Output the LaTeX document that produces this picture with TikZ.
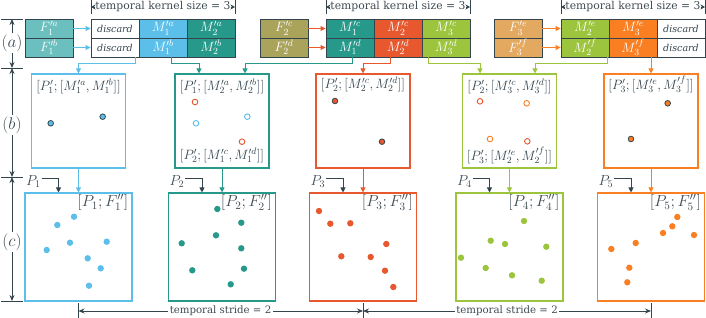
\documentclass[tikz,border=0pt]{standalone}
\usepackage[no-math]{fontspec}
\DeclareFontShape{OML}{cmm}{m}{it}{<-6>cmmi5<6-7>cmmi6<7-8>cmmi7<8-9>cmmi8<9-10>cmmi9<10-12>cmmi10<12->cmmi12}{}
\DeclareFontShape{OT1}{cmr}{m}{n}{<-6>cmr5<6-7>cmr6<7-8>cmr7<8-9>cmr8<9-10>cmr9<10-12>cmr10<12-17>cmr12<17->cmr17}{}
\DeclareFontShape{OMS}{cmsy}{m}{n}{<-6>cmsy5<6-7>cmsy6<7-8>cmsy7<8-9>cmsy8<9-10>cmsy9<10->cmsy10}{}
\DeclareFontShape{OMX}{cmex}{m}{n}{<->cmex10}{}
\newfontfamily\djv{DejaVu Serif}
\usetikzlibrary{arrows.meta}
\definecolor{cblue}{HTML}{5BBFEA}
\definecolor{cteal}{HTML}{26998A}
\definecolor{cred}{HTML}{E8582F}
\definecolor{cgreen}{HTML}{9CC43D}
\definecolor{corange}{HTML}{FA7F22}
\definecolor{fab}{HTML}{6BBFBE}
\definecolor{fcd}{HTML}{A9A35C}
\definecolor{fef}{HTML}{E3A960}
\definecolor{cdark}{HTML}{33444D}
\definecolor{ctext}{HTML}{3E4A52}
\tikzset{
 cell/.style={draw=cdark, line width=0.9pt, minimum width=48pt, minimum height=19pt, inner sep=0pt, text=white, font=\fontsize{13.5}{14}\selectfont},
 disc/.style={cell, fill=white, text=cdark, font=\djv\itshape\fontsize{9.5}{11}\selectfont},
 conn/.style={line width=0.9pt, -{Triangle[length=5pt,width=5pt]}},
 pbox/.style={draw, line width=1.1pt, minimum width=94pt, minimum height=94pt, inner sep=0pt},
 qbox/.style={draw, line width=1.1pt, minimum width=107pt, minimum height=108pt, inner sep=0pt},
 dimarr/.style={draw=cdark, line width=0.8pt, -{Stealth[length=6pt,width=5pt]}},
 kerarr/.style={draw=cdark, line width=0.8pt, -{Stealth[length=4.5pt,width=5pt]}},
 dimline/.style={draw=cdark, line width=0.8pt},
 kertxt/.style={text=ctext, font=\djv\fontsize{10.8}{12}\selectfont, inner sep=0pt},
 dimtxt/.style={text=ctext, font=\djv\fontsize{10.2}{12}\selectfont, inner sep=1.5pt},
 rowlab/.style={text=ctext, font=\fontsize{17}{19}\selectfont, inner sep=1pt},
 mlab/.style={text=cdark, font=\fontsize{13.5}{15}\selectfont, inner sep=0pt},
 qlab/.style={text=ctext, font=\fontsize{16}{18}\selectfont, inner sep=1pt, anchor=north east},
 plab/.style={text=ctext, font=\fontsize{14.5}{16}\selectfont, inner sep=0pt},
 parr/.style={draw=cdark, line width=0.9pt, -{Triangle[length=5pt,width=5pt]}},
 bdot/.style={draw=cdark, line width=0.8pt},
 odot/.style={line width=0.9pt, fill=white},
}
\begin{document}
\begin{tikzpicture}[x=1pt,y=-1pt]
\useasboundingbox (0,0) rectangle (706,318);

% ---------- top row, group 1
\node[cell, fill=fab] (f1a) at (49,28.5) {$F'^a_1$};
\node[cell, fill=fab] (f1b) at (49,47.5) {$F'^b_1$};
\node[disc] (g1da) at (115,28.5) {discard};
\node[disc] (g1db) at (115,47.5) {discard};
\node[cell, fill=cblue] (g1m1a) at (163,28.5) {$M'^a_1$};
\node[cell, fill=cblue] (g1m1b) at (163,47.5) {$M'^b_1$};
\node[cell, fill=cteal] (g1m2a) at (211,28.5) {$M'^a_2$};
\node[cell, fill=cteal] (g1m2b) at (211,47.5) {$M'^b_2$};
\draw[conn, cblue] (f1a) -- (g1da);
\draw[conn, cblue] (f1b) -- (g1db);

% ---------- top row, group 2
\node[cell, fill=fcd] (f2a) at (284,28.5) {$F'^c_2$};
\node[cell, fill=fcd] (f2b) at (284,47.5) {$F'^d_2$};
\node[cell, fill=cteal] (g2m1a) at (350,28.5) {$M'^c_1$};
\node[cell, fill=cteal] (g2m1b) at (350,47.5) {$M'^d_1$};
\node[cell, fill=cred] (g2m2a) at (398,28.5) {$M'^c_2$};
\node[cell, fill=cred] (g2m2b) at (398,47.5) {$M'^d_2$};
\node[cell, fill=cgreen] (g2m3a) at (446,28.5) {$M'^c_3$};
\node[cell, fill=cgreen] (g2m3b) at (446,47.5) {$M'^d_3$};
\draw[conn, cred] (f2a) -- (g2m1a);
\draw[conn, cred] (f2b) -- (g2m1b);

% ---------- top row, group 3
\node[cell, fill=fef] (f3a) at (518,28.5) {$F'^e_3$};
\node[cell, fill=fef] (f3b) at (518,47.5) {$F'^f_3$};
\node[cell, fill=cgreen] (g3m2a) at (585,28.5) {$M'^e_2$};
\node[cell, fill=cgreen] (g3m2b) at (585,47.5) {$M'^f_2$};
\node[cell, fill=corange] (g3m3a) at (633,28.5) {$M'^e_3$};
\node[cell, fill=corange] (g3m3b) at (633,47.5) {$M'^f_3$};
\node[disc] (g3da) at (681,28.5) {discard};
\node[disc] (g3db) at (681,47.5) {discard};
\draw[conn, corange] (f3a) -- (g3m2a);
\draw[conn, corange] (f3b) -- (g3m2b);

% ---------- kernel size dimensions
\coordinate (k1l) at (91,7); \coordinate (k1r) at (235,7);
\coordinate (k2l) at (326,7); \coordinate (k2r) at (470,7);
\coordinate (k3l) at (561,7); \coordinate (k3r) at (705,7);
\foreach \c in {k1l,k1r,k2l,k2r,k3l,k3r}{
  \draw[dimline] ([yshift=7pt]\c) -- ([yshift=-7pt]\c);
}
\node[kertxt] (k1) at (163,7) {temporal kernel size = 3};
\node[kertxt] (k2) at (398,7) {temporal kernel size = 3};
\node[kertxt] (k3) at (633,7) {temporal kernel size = 3};
\draw[kerarr] (k1) -- (k1l); \draw[kerarr] (k1) -- (k1r);
\draw[kerarr] (k2) -- (k2l); \draw[kerarr] (k2) -- (k2r);
\draw[kerarr] (k3) -- (k3l); \draw[kerarr] (k3) -- (k3r);

% ---------- middle row boxes
\node[pbox, draw=cblue] (b1) at (78.5,121) {};
\node[pbox, draw=cteal] (b2) at (222,121) {};
\node[pbox, draw=cred] (b3) at (363,121) {};
\node[pbox, draw=cgreen] (b4) at (509.5,121) {};
\node[pbox, draw=corange] (b5) at (651,121) {};

\node[mlab] (b1t) at ([yshift=-13pt]b1.north) {$\bigl[P'_1;[M'^a_1,M'^b_1]\bigr]$};
\node[mlab] (b2t) at ([yshift=-13pt]b2.north) {$\bigl[P'_1;[M'^a_2,M'^b_2]\bigr]$};
\node[mlab] (b2b) at ([yshift=13pt]b2.south) {$\bigl[P'_2;[M'^c_1,M'^d_1]\bigr]$};
\node[mlab] (b3t) at ([yshift=-11pt]b3.north) {$\bigl[P'_2;[M'^c_2,M'^d_2]\bigr]$};
\node[mlab] (b4t) at ([yshift=-13pt]b4.north) {$\bigl[P'_2;[M'^c_3,M'^d_3]\bigr]$};
\node[mlab] (b4b) at ([yshift=13pt]b4.south) {$\bigl[P'_3;[M'^e_2,M'^f_2]\bigr]$};
\node[mlab] (b5t) at ([yshift=-11pt]b5.north) {$\bigl[P'_3;[M'^e_3,M'^f_3]\bigr]$};

% middle dots
\filldraw[bdot, fill=cblue] (50.7,123.3) circle (2.8pt) (102.7,116.7) circle (2.8pt);
\draw[odot, draw=cred] (195,102) circle (2.8pt) (242,141.7) circle (2.8pt);
\draw[odot, draw=cblue] (196,123.3) circle (2.8pt) (247.3,116.7) circle (2.8pt);
\filldraw[bdot, fill=cred] (335,101) circle (2.8pt) (382,141.7) circle (2.8pt);
\draw[odot, draw=cred] (480,101.3) circle (2.8pt) (527.3,141.3) circle (2.8pt);
\draw[odot, draw=corange] (526.7,103.3) circle (2.8pt) (490,139) circle (2.8pt);
\filldraw[bdot, fill=corange] (667.7,103.3) circle (2.8pt) (631,139) circle (2.8pt);

% ---------- connectors top -> middle
\draw[conn, cblue] ([xshift=-4pt]g1db.south east) -- ++(0,6) -| (b1.north);
\draw[conn, cteal] ([xshift=8pt]g1m1b.south) -- ++(0,6) -| ([xshift=-23pt]b2.north);
\draw[conn, cteal] ([xshift=2pt]g2m1b.south) -- ++(0,6) -| ([xshift=23pt]b2.north);
\draw[conn, cred] ([xshift=-8pt]g2m2b.south) -- ++(0,6) -| (b3.north);
\draw[conn, cgreen] ([xshift=-18pt]g2m3b.south) -- ++(0,6) -| ([xshift=-29.5pt]b4.north);
\draw[conn, cgreen] ([xshift=-2pt]g3m2b.south east) -- ++(0,6) -| ([xshift=25.5pt]b4.north);
\draw[conn, corange] (b5.north |- g3m3b.south) -- (b5.north);

% ---------- bottom row boxes
\node[qbox, draw=cblue] (c1) at (78.5,247) {};
\node[qbox, draw=cteal] (c2) at (222,247) {};
\node[qbox, draw=cred] (c3) at (363,247) {};
\node[qbox, draw=cgreen] (c4) at (509.5,247) {};
\node[qbox, draw=corange] (c5) at (651,247) {};

\node[qlab] (c1l) at ([xshift=-3pt,yshift=-1pt]c1.north east) {$[P_1;F''_1]$};
\node[qlab] (c2l) at ([xshift=-3pt,yshift=-1pt]c2.north east) {$[P_2;F''_2]$};
\node[qlab] (c3l) at ([xshift=-3pt,yshift=-1pt]c3.north east) {$[P_3;F''_3]$};
\node[qlab] (c4l) at ([xshift=-3pt,yshift=-1pt]c4.north east) {$[P_4;F''_4]$};
\node[qlab] (c5l) at ([xshift=-3pt,yshift=-1pt]c5.north east) {$[P_5;F''_5]$};

% middle -> bottom
\draw[conn, cblue] (b1.south) -- (c1.north);
\draw[conn, cteal] (b2.south) -- (c2.north);
\draw[conn, cred] (b3.south) -- (c3.north);
\draw[conn, cgreen] (b4.south) -- (c4.north);
\draw[conn, corange] (b5.south) -- (c5.north);

% P labels
\node[plab] (p1) at ([xshift=9pt,yshift=11pt]c1.north west) {$P_1$};
\node[plab] (p2) at ([xshift=9pt,yshift=11pt]c2.north west) {$P_2$};
\node[plab] (p3) at ([xshift=9pt,yshift=11pt]c3.north west) {$P_3$};
\node[plab] (p4) at ([xshift=9pt,yshift=11pt]c4.north west) {$P_4$};
\node[plab] (p5) at ([xshift=9pt,yshift=11pt]c5.north west) {$P_5$};
\foreach \i in {1,...,5}{
  \draw[parr] ([xshift=0.5pt,yshift=3pt]p\i.east) -| ([xshift=-20pt]c\i.north);
}

% bottom dots
\fill[cblue] (74,216.7) circle (3.2pt) (57.3,225) circle (3.2pt) (70,242.7) circle (3.2pt)
  (106.7,241.7) circle (3.2pt) (46.7,250) circle (3.2pt) (87.7,258.3) circle (3.2pt)
  (100.7,268.3) circle (3.2pt) (89,285.7) circle (3.2pt);
\fill[cteal] (217.3,209) circle (3.2pt) (241.3,222.7) circle (3.2pt) (216,235.3) circle (3.2pt)
  (181.7,243.3) circle (3.2pt) (241.3,248.3) circle (3.2pt) (192.3,270.3) circle (3.2pt)
  (244,268.7) circle (3.2pt) (230.7,284.3) circle (3.2pt);
\fill[cred] (319,211) circle (3.2pt) (330.3,223.7) circle (3.2pt) (350.3,223.3) circle (3.2pt)
  (386.3,244) circle (3.2pt) (341.3,256.3) circle (3.2pt) (370.7,257) circle (3.2pt)
  (385,270.7) circle (3.2pt) (393.3,287) circle (3.2pt);
\fill[cgreen] (524,221) circle (3.2pt) (490.7,240.7) circle (3.2pt) (505,244) circle (3.2pt)
  (546.3,246.7) circle (3.2pt) (461,257.7) circle (3.2pt) (485.7,268) circle (3.2pt)
  (512,275.3) circle (3.2pt) (541.7,280.7) circle (3.2pt);
\fill[corange] (677.3,217) circle (3.2pt) (672.3,226.3) circle (3.2pt) (663,233) circle (3.2pt)
  (694,235) circle (3.2pt) (635.7,243) circle (3.2pt) (611.3,249) circle (3.2pt)
  (629.3,267.7) circle (3.2pt) (627.3,282.3) circle (3.2pt);

% ---------- row labels at left
\coordinate (t0) at (12,19); \coordinate (t1) at (12,68);
\coordinate (t2) at (12,177); \coordinate (t3) at (12,301);
\foreach \t in {t0,t1,t2,t3}{
  \draw[dimline] ([xshift=-11pt]\t) -- ([xshift=11pt]\t);
}
\node[rowlab] (la) at (12,43) {$(a)$};
\node[rowlab] (lb) at (12,125) {$(b)$};
\node[rowlab] (lc) at (12,242) {$(c)$};
\draw[dimarr] (la) -- (t0); \draw[dimarr] (la) -- (t1);
\draw[dimarr] (lb) -- (t1); \draw[dimarr] (lb) -- (t2);
\draw[dimarr] (lc) -- (t2); \draw[dimarr] (lc) -- (t3);

% ---------- stride dimensions
\coordinate (s0) at (78.5,311); \coordinate (s1) at (363,311); \coordinate (s2) at (651,311);
\foreach \c in {s0,s1,s2}{
  \draw[dimline] ([yshift=8pt]\c) -- ([yshift=-7pt]\c);
}
\node[dimtxt] (st1) at (220.5,311) {temporal stride = 2};
\node[dimtxt] (st2) at (507,311) {temporal stride = 2};
\draw[dimarr] (st1) -- (s0); \draw[dimarr] (st1) -- (s1);
\draw[dimarr] (st2) -- (s1); \draw[dimarr] (st2) -- (s2);
\end{tikzpicture}
\end{document}
